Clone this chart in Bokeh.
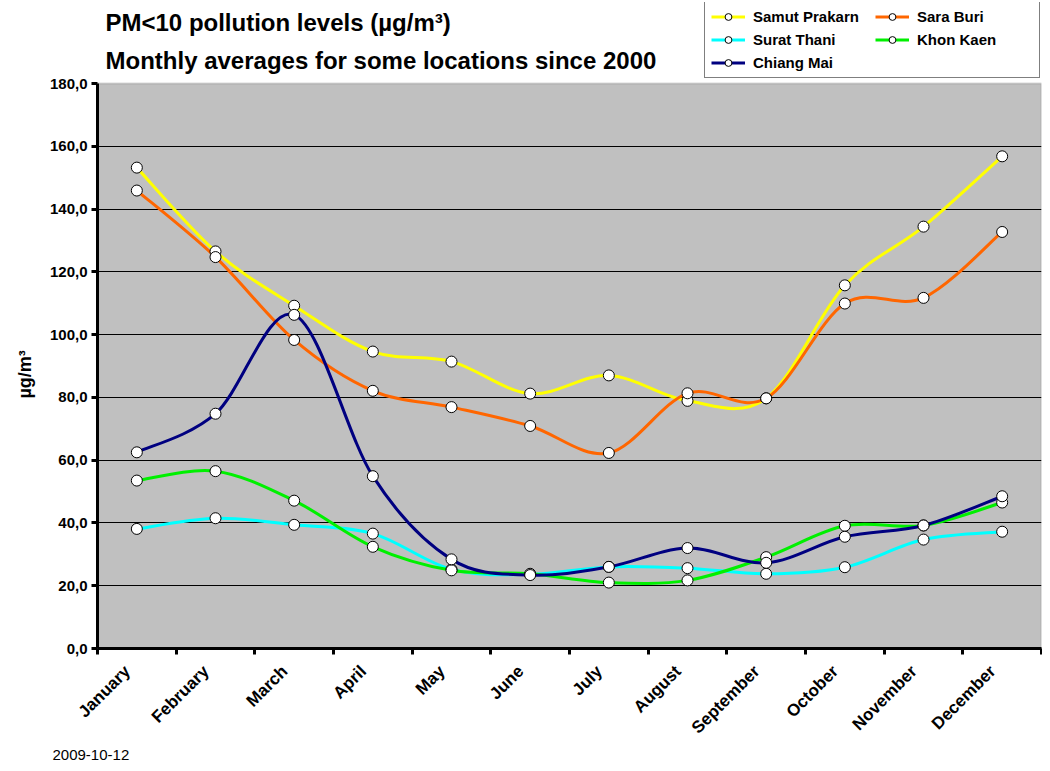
import math
from bokeh.plotting import figure
from bokeh.models import (Range1d, FixedTicker, Legend, LegendItem, Label, Title, BoxAnnotation)
from bokeh.embed import file_html
from bokeh.resources import INLINE

months = ["January", "February", "March", "April", "May", "June", "July",
          "August", "September", "October", "November", "December"]
samut_prakarn = [153.2, 126.5, 109.2, 94.6, 91.4, 81.2, 87.0, 78.9, 79.7, 115.7, 134.4, 156.8]
sara_buri = [145.9, 124.7, 98.3, 82.1, 76.9, 70.9, 62.3, 81.3, 79.7, 109.9, 111.7, 132.7]
surat_thani = [38.1, 41.5, 39.4, 36.6, 25.2, 23.6, 26.0, 25.6, 23.8, 25.9, 34.7, 37.2]
khon_kaen = [53.5, 56.5, 47.1, 32.4, 24.9, 23.8, 21.0, 21.7, 29.1, 39.1, 39.2, 46.5]
chiang_mai = [62.5, 74.8, 106.3, 54.9, 28.4, 23.4, 26.0, 32.0, 27.3, 35.6, 39.2, 48.5]
series_names = ["Samut Prakarn", "Sara Buri", "Surat Thani", "Khon Kaen", "Chiang Mai"]
series_colors = ["#FFFF00", "#FF6600", "#00FFFF", "#00F000", "#000080"]
y_ticks = [0, 20, 40, 60, 80, 100, 120, 140, 160, 180]
y_max = 180

all_series = [samut_prakarn, sara_buri, surat_thani, khon_kaen, chiang_mai]
xs = [i + 0.5 for i in range(len(months))]
# anchor of the slanted month labels, nudged left of the category centre
label_pos = [round(x - 0.12, 3) for x in xs]

FONT = "Liberation Sans"
W, H = 1042, 763
LEFT, TOP, BOTTOM_Y = 97, 2, 648          # canvas px
AXIS_TOP_Y = 83                            # canvas px of y=180
px_per_unit = (BOTTOM_Y - AXIS_TOP_Y) / y_max
y_top = y_max + (AXIS_TOP_Y - TOP) / px_per_unit

p = figure(width=W, height=H, output_backend="svg", toolbar_location=None,
           x_range=Range1d(0, 12), y_range=Range1d(0, y_top),
           min_border_left=LEFT, min_border_right=1, min_border_top=TOP,
           min_border_bottom=H - BOTTOM_Y)
p.background_fill_color = "white"
p.border_fill_color = "white"
p.outline_line_color = None

# grey plotting area (only up to 180)
p.add_layout(BoxAnnotation(left=0, right=12, bottom=0, top=y_max,
                           fill_color="#C0C0C0", fill_alpha=1,
                           line_color="#808080", line_width=2, level="image"))

p.xgrid.visible = False
p.ygrid.grid_line_color = "black"
p.ygrid.grid_line_width = 1
p.ygrid.ticker = FixedTicker(ticks=y_ticks[1:-1])

# y axis
ya = p.yaxis[0]
ya.bounds = (0, y_max)
ya.ticker = FixedTicker(ticks=y_ticks)
ya.major_label_overrides = {t: f"{t},0" for t in y_ticks}
ya.axis_line_width = 3
ya.axis_line_color = "black"
ya.major_tick_line_width = 3
ya.major_tick_line_color = "black"
ya.major_tick_out = 6
ya.major_tick_in = 0
ya.minor_tick_line_color = None
ya.major_label_text_font = FONT
ya.major_label_text_font_style = "bold"
ya.major_label_text_font_size = "15px"
ya.major_label_text_color = "black"
ya.major_label_standoff = 4

# x axis
xa = p.xaxis[0]
xa.ticker = FixedTicker(ticks=label_pos, minor_ticks=list(range(13)))
xa.major_label_overrides = {x: m for x, m in zip(label_pos, months)}
xa.axis_line_width = 3
xa.axis_line_color = "black"
xa.major_tick_out = 0
xa.major_tick_in = 0
xa.major_tick_line_color = None
xa.minor_tick_line_width = 3
xa.minor_tick_line_color = "black"
xa.minor_tick_out = 6
xa.minor_tick_in = 0
xa.major_label_orientation = math.pi / 4
xa.major_label_text_font = FONT
xa.major_label_text_font_style = "bold"
xa.major_label_text_font_size = "17px"
xa.major_label_text_color = "black"
xa.major_label_standoff = 14

# y axis title as a side title
ytitle = Title(text="µg/m³", align="left", offset=250, standoff=24,
               text_font=FONT, text_font_style="bold", text_font_size="18px",
               text_color="black")
p.add_layout(ytitle, "left")

# date below
date_title = Title(text="2009-10-12", align="left", offset=-45, standoff=0,
                   text_font=FONT, text_font_style="normal", text_font_size="15px",
                   text_color="black")
p.add_layout(date_title, "below")

line_renderers = []
for vals, color in zip(all_series, series_colors):
    n = len(vals)
    x0, y0, x1, y1, cx0, cy0, cx1, cy1 = [], [], [], [], [], [], [], []
    for i in range(n - 1):
        pxm, pym = (xs[i - 1], vals[i - 1]) if i > 0 else (xs[i], vals[i])
        px0, py0 = xs[i], vals[i]
        px1, py1 = xs[i + 1], vals[i + 1]
        pxp, pyp = (xs[i + 2], vals[i + 2]) if i + 2 < n else (xs[i + 1], vals[i + 1])
        x0.append(px0); y0.append(py0); x1.append(px1); y1.append(py1)
        cx0.append(px0 + (px1 - pxm) / 6.0); cy0.append(py0 + (py1 - pym) / 6.0)
        cx1.append(px1 - (pxp - px0) / 6.0); cy1.append(py1 - (pyp - py0) / 6.0)
    r = p.bezier(x0=x0, y0=y0, x1=x1, y1=y1, cx0=cx0, cy0=cy0, cx1=cx1, cy1=cy1,
                 line_color=color, line_width=3)
    line_renderers.append(r)

marker_renderers = []
for vals in all_series:
    m = p.scatter(xs, vals, marker="circle", size=11, fill_color="white",
                  line_color="black", line_width=1)
    marker_renderers.append(m)

items = [LegendItem(label=name, renderers=[lr, mr])
         for name, lr, mr in zip(series_names, line_renderers, marker_renderers)]
legend = Legend(items=items, location=(704 - LEFT, BOTTOM_Y - 78),
                orientation="horizontal", ncols=2,
                border_line_color="black", border_line_width=1,
                background_fill_color="white", background_fill_alpha=1,
                label_text_font=FONT, label_text_font_style="bold",
                label_text_font_size="15px", label_text_color="black",
                glyph_width=34, glyph_height=17, label_standoff=8,
                spacing=6, padding=6, margin=0, label_width=116, label_height=17)
p.add_layout(legend, "center")

title1 = Label(x=105 - LEFT, y=BOTTOM_Y - 22, x_units="screen", y_units="screen",
               text="PM<10 pollution levels (µg/m³)", text_font=FONT,
               text_font_style="bold", text_font_size="24px", text_baseline="middle",
               text_color="black")
title2 = Label(x=105 - LEFT, y=BOTTOM_Y - 60, x_units="screen", y_units="screen",
               text="Monthly averages for some locations since 2000", text_font=FONT,
               text_font_style="bold", text_font_size="24px", text_baseline="middle",
               text_color="black")
p.add_layout(title1)
p.add_layout(title2)

open("out.html", "w").write(file_html(p, INLINE))
